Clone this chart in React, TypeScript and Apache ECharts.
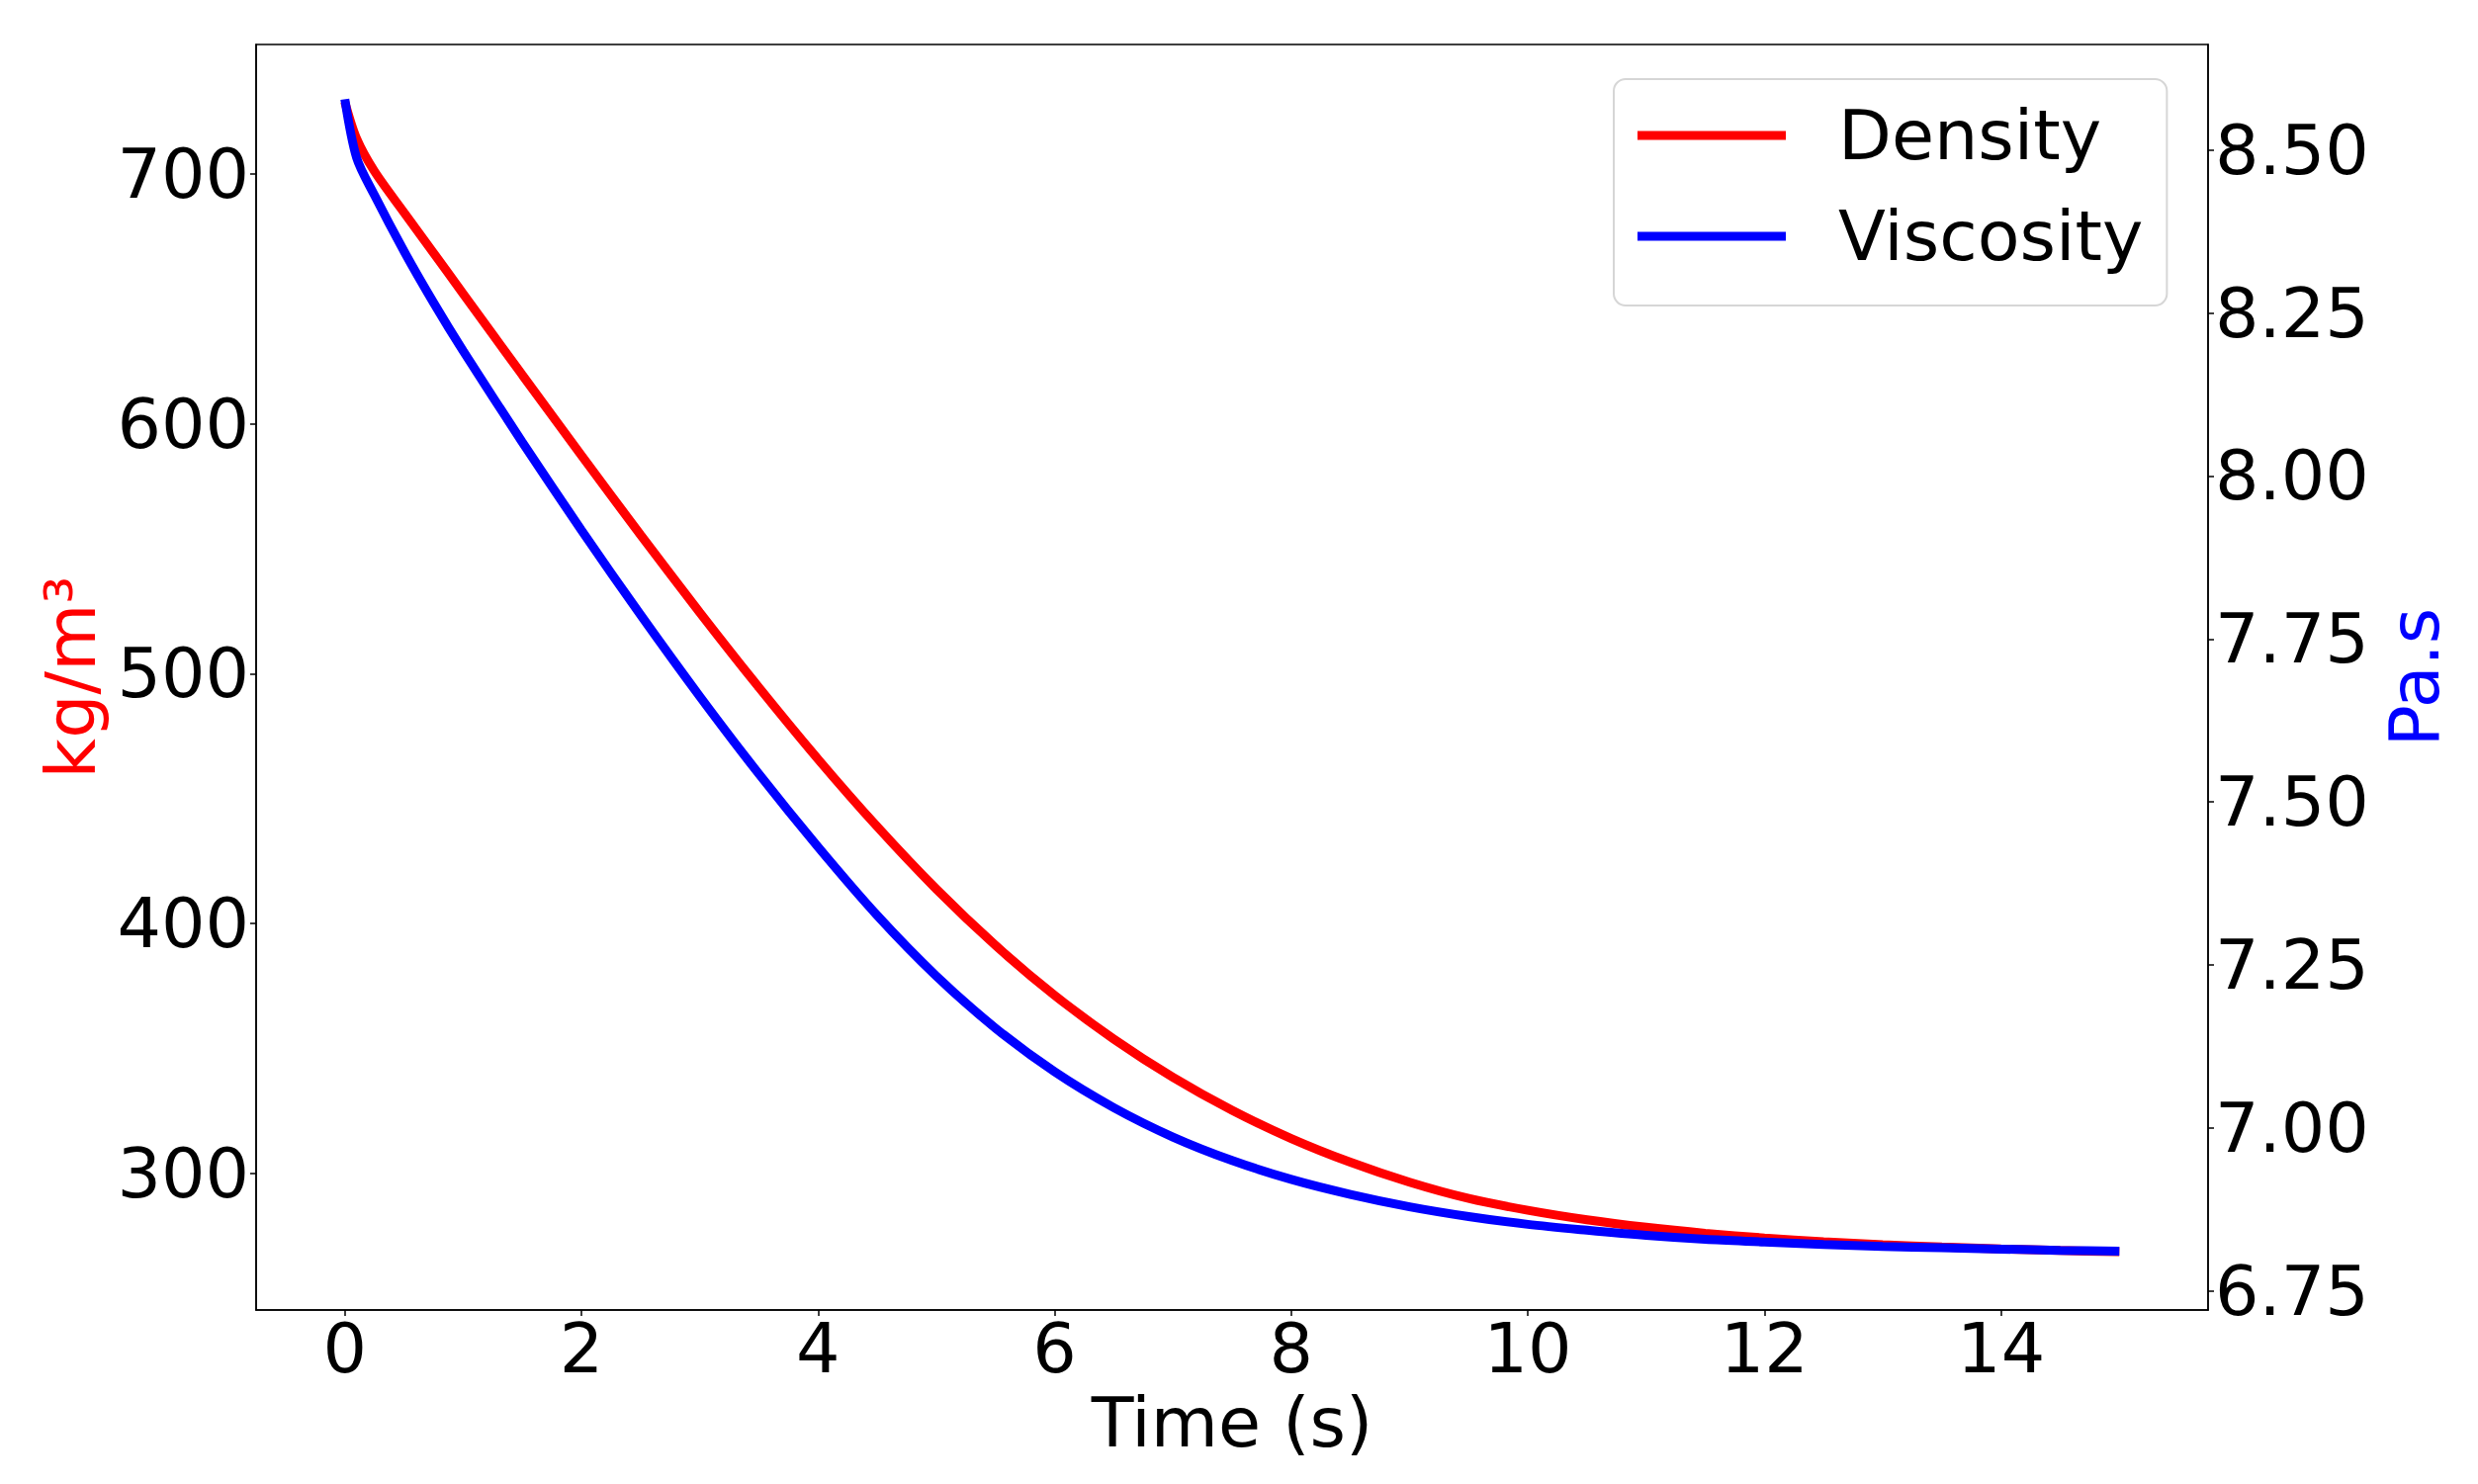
import React, { useEffect, useRef } from "react";
import * as echarts from "echarts";

const FONT = "DejaVu Sans";

const time = [0, 0.1, 0.25, 0.5, 0.75, 1, 1.5, 2, 2.5, 3, 3.5, 4, 4.5, 5, 5.5, 6, 6.5, 7, 7.5, 8, 8.5, 9, 9.5, 10, 10.5, 11, 11.5, 12, 12.5, 13, 13.5, 14, 14.5, 15];
const density = [728.7, 714, 701, 684.5, 668.3, 652.0, 619.5, 587.3, 555.5, 524.5, 494.5, 465.8, 438.8, 413.8, 391.3, 371.3, 353.8, 338.5, 325.3, 314.0, 304.5, 296.5, 290.0, 285.3, 281.5, 278.5, 276.1, 274.2, 272.7, 271.5, 270.6, 269.8, 269.2, 268.7];
const viscosity = [8.578, 8.488, 8.431, 8.345, 8.266, 8.192, 8.052, 7.917, 7.787, 7.662, 7.543, 7.431, 7.326, 7.233, 7.153, 7.086, 7.031, 6.986, 6.950, 6.921, 6.898, 6.879, 6.864, 6.852, 6.843, 6.835, 6.829, 6.825, 6.821, 6.818, 6.816, 6.814, 6.812, 6.811];

const xTicks = [0, 2, 4, 6, 8, 10, 12, 14];
const densityTicks = [300, 400, 500, 600, 700];
const viscosityTicks = [6.75, 7.0, 7.25, 7.5, 7.75, 8.0, 8.25, 8.5];

export default function App() {
  const ref = useRef<HTMLDivElement>(null);

  useEffect(() => {
    document.body.style.margin = "0";
    if (!ref.current) return;
    const chart = echarts.init(ref.current, undefined, { renderer: "svg" });
    const tickStyle = { show: true, inside: false, length: 6, lineStyle: { color: "#000", width: 1.5 } };
    const lineAxis = { show: true, onZero: false, lineStyle: { color: "#000", width: 1.5 } };
    chart.setOption({
      animation: false,
      backgroundColor: "#fff",
      textStyle: { fontFamily: FONT },
      grid: { left: 259, right: 273, top: 45, bottom: 176, show: true, borderColor: "#000", borderWidth: 1.5, backgroundColor: "transparent" },
      legend: {
        orient: "vertical",
        left: 1632,
        top: 80,
        padding: [17, 24, 30, 24],
        itemWidth: 150,
        itemHeight: 9,
        itemGap: 22,
        icon: "rect",
        backgroundColor: "#fff",
        borderColor: "#d6d6d6",
        borderWidth: 2,
        borderRadius: 12,
        textStyle: { fontSize: 70, color: "#000", fontFamily: FONT, lineHeight: 80, padding: [0, 0, 0, 48] },
        data: ["Density", "Viscosity"],
      },
      xAxis: {
        type: "value",
        min: -0.75,
        max: 15.75,
        name: "Time (s)",
        nameLocation: "middle",
        nameGap: 64,
        nameTextStyle: { fontSize: 70, color: "#000", fontFamily: FONT },
        axisLine: lineAxis,
        axisTick: { ...tickStyle, customValues: xTicks },
        axisLabel: { fontSize: 70, color: "#000", margin: 4, fontFamily: FONT, customValues: xTicks },
        splitLine: { show: false },
      },
      yAxis: [
        {
          type: "value",
          position: "left",
          min: 245.4,
          max: 751.7,
          name: "kg/m³",
          nameLocation: "middle",
          nameGap: 150,
          nameRotate: 90,
          nameTextStyle: { fontSize: 70, color: "#ff0000", fontFamily: FONT },
          axisLine: lineAxis,
          axisTick: { ...tickStyle, customValues: densityTicks },
          axisLabel: { fontSize: 70, color: "#000", margin: 7, fontFamily: FONT, customValues: densityTicks },
          splitLine: { show: false },
        },
        {
          type: "value",
          position: "right",
          min: 6.7206,
          max: 8.662,
          name: "Pa.s",
          nameLocation: "middle",
          nameGap: 154,
          nameRotate: 90,
          nameTextStyle: { fontSize: 70, color: "#0000ff", fontFamily: FONT },
          axisLine: lineAxis,
          axisTick: { ...tickStyle, customValues: viscosityTicks },
          axisLabel: {
            fontSize: 70,
            color: "#000",
            margin: 7,
            fontFamily: FONT,
            customValues: viscosityTicks,
            formatter: (v: number) => v.toFixed(2),
          },
          splitLine: { show: false },
        },
      ],
      series: [
        {
          name: "Density",
          type: "line",
          yAxisIndex: 0,
          data: time.map((t, i) => [t, density[i]]),
          showSymbol: false,
          symbol: "none",
          smooth: 0.3,
          lineStyle: { color: "#ff0000", width: 9 },
          itemStyle: { color: "#ff0000" },
        },
        {
          name: "Viscosity",
          type: "line",
          yAxisIndex: 1,
          data: time.map((t, i) => [t, viscosity[i]]),
          showSymbol: false,
          symbol: "none",
          smooth: 0.3,
          lineStyle: { color: "#0000ff", width: 9 },
          itemStyle: { color: "#0000ff" },
        },
      ],
    });
    return () => chart.dispose();
  }, []);

  return <div ref={ref} style={{ width: 2506, height: 1501 }} />;
}
